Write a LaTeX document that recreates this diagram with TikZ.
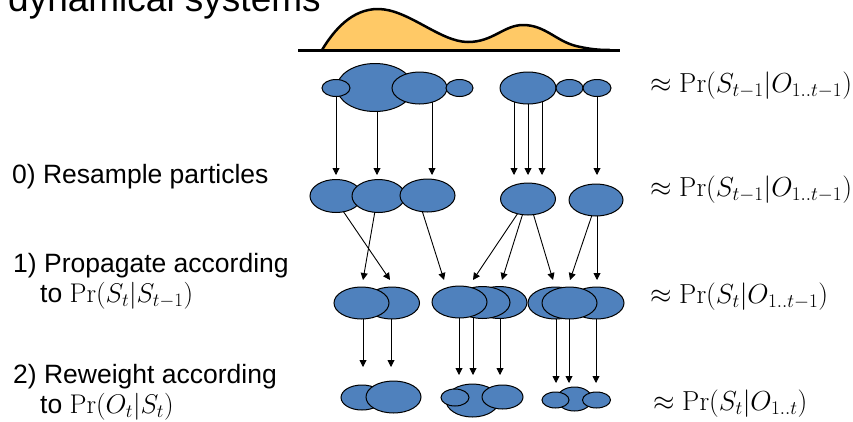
\RequirePackage{fix-cm}
\documentclass[tikz,border=0pt]{standalone}
\usepackage[no-math]{fontspec}
\newfontfamily\arial{Liberation Sans}
\usetikzlibrary{shapes.geometric,arrows.meta}
\definecolor{particleblue}{RGB}{79,129,189}
\definecolor{density}{RGB}{255,201,102}
\pgfdeclarelayer{back}
\pgfdeclarelayer{links}
\pgfsetlayers{back,links,main}

\tikzset{
  particle/.style={ellipse, draw=black, fill=particleblue, line width=1pt, inner sep=0pt},
  flow/.style={-{Triangle[length=7pt,width=7pt]}, line width=0.9pt, draw=black},
  steptext/.style={anchor=base west, inner sep=0pt, font=\arial\fontsize{26.5}{30}\selectfont},
  mathlabel/.style={anchor=base west, inner sep=0pt, font=\fontsize{27.5}{31}\selectfont},
}
% particle: name, centre x, centre y, full width, full height
\newcommand\particleat[5]{\node[particle, minimum width=#4pt, minimum height=#5pt] (#1) at (#2,#3) {};}
% maths inside the step descriptions
\newcommand\stepmath[1]{{\fontsize{27}{30}\selectfont$#1$}}

\begin{document}
\begin{tikzpicture}[x=1pt,y=-1pt]
\useasboundingbox (0,0) rectangle (853,421);
\begin{pgfonlayer}{back}
  \fill[white] (0,0) rectangle (853,421);
\end{pgfonlayer}

% title, cut by the top edge
\node[anchor=base west, inner sep=0pt, font=\arial\fontsize{37}{44}\selectfont] (title) at (8,11) {dynamical systems};

% density curve over its axis
\fill[density] (322,50) .. controls (334,30) and (352,9) .. (378,9)
  .. controls (408,9) and (440,42) .. (468,42)
  .. controls (493,42) and (504,25) .. (523,25)
  .. controls (545,25) and (556,41) .. (576,46)
  .. controls (591,49.5) and (600,50) .. (610,50) -- cycle;
\draw[line width=2.5pt, line join=round] (322,50) .. controls (334,30) and (352,9) .. (378,9)
  .. controls (408,9) and (440,42) .. (468,42)
  .. controls (493,42) and (504,25) .. (523,25)
  .. controls (545,25) and (556,41) .. (576,46)
  .. controls (591,49.5) and (600,50) .. (610,50);
\draw[line width=3pt] (298,50) -- (620,50);

% row 1: weighted particles at t-1
\particleat{a2}{375}{87.5}{76}{48}
\particleat{a1}{336}{88}{28}{17}
\particleat{a3}{419.5}{88}{55}{32}
\particleat{a4}{459.5}{88}{27}{17}
\particleat{a5}{528}{88}{56}{32}
\particleat{a6}{569.5}{88}{27}{17}
\particleat{a7}{597}{88}{28}{17}

% row 2: resampled particles
\particleat{b1}{336}{196}{52}{33}
\particleat{b2}{378.5}{196}{53}{33}
\particleat{b3}{427.5}{195.5}{55}{33}
\particleat{b4}{528}{199}{55}{32}
\particleat{b5}{596}{200}{54}{32}

% row 3: propagated particles
\particleat{c2}{392}{303}{55}{32}
\particleat{c1}{361.5}{303}{55}{32}
\particleat{c5}{499.5}{302.5}{55}{32}
\particleat{c4}{482.5}{302.5}{55}{32}
\particleat{c3}{459.5}{302}{55}{32}
\particleat{c6}{555.5}{303}{55}{32}
\particleat{c8}{596.5}{303}{55}{32}
\particleat{c7}{569.5}{303}{55}{32}

% row 4: reweighted particles
\particleat{d1}{362}{397.5}{42}{25}
\particleat{d2}{393.5}{397}{55}{32}
\particleat{e1}{472.5}{400.5}{53}{33}
\particleat{e2}{455}{397.5}{28}{17}
\particleat{e3}{502.5}{397}{41}{24}
\particleat{f1}{574.5}{399}{35}{24}
\particleat{f2}{555.5}{400}{27}{16}
\particleat{f3}{596.5}{400}{28}{16}

\begin{pgfonlayer}{links}
  % resampling
  \draw[flow] (a1.center) -- ([shift={(0,-21)}]b1.center);
  \draw[flow] ([shift={(2,0)}]a2.center) -- ([shift={(-1.5,-21)}]b2.center);
  \draw[flow] ([shift={(12.5,0)}]a3.center) -- ([shift={(4.5,-20.5)}]b3.center);
  \draw[flow] ([shift={(-14,0)}]a5.center) -- ([shift={(-14,-24)}]b4.center);
  \draw[flow] (a5.center) -- ([shift={(0,-24)}]b4.center);
  \draw[flow] ([shift={(14,0)}]a5.center) -- ([shift={(14,-24)}]b4.center);
  \draw[flow] (a7.center) -- ([shift={(1,-25)}]b5.center);
  % propagation
  \draw[flow] ([shift={(7,15)}]b1.center) -- ([shift={(-2,-23)}]c2.center);
  \draw[flow] ([shift={(-3.5,15)}]b2.center) -- ([shift={(1.5,-23)}]c1.center);
  \draw[flow] ([shift={(-5.5,15)}]b3.center) -- ([shift={(-15.5,-22)}]c3.center);
  \draw[flow] ([shift={(-10,14)}]b4.center) -- ([shift={(-9.5,-22.5)}]c4.center);
  \draw[flow] ([shift={(-5,14)}]b4.center) -- ([shift={(2.5,-22.5)}]c5.center);
  \draw[flow] ([shift={(5,14)}]b4.center) -- ([shift={(-2.5,-23)}]c6.center);
  \draw[flow] ([shift={(-4,15)}]b5.center) -- ([shift={(0.5,-23)}]c7.center);
  \draw[flow] ([shift={(1,0)}]b5.center) -- ([shift={(0.5,-23)}]c8.center);
  % reweighting
  \draw[flow] ([shift={(1.5,0)}]c1.center) -- ([shift={(1,-30.5)}]d1.center);
  \draw[flow] ([shift={(-1,0)}]c2.center) -- ([shift={(-2.5,-30)}]d2.center);
  \draw[flow] ([shift={(-0.5,0)}]c3.center) -- ([shift={(4,-22.5)}]e2.center);
  \draw[flow] ([shift={(-9.5,0)}]c4.center) -- ([shift={(0.5,-25.5)}]e1.center);
  \draw[flow] ([shift={(0.5,0)}]c5.center) -- ([shift={(-2.5,-22)}]e3.center);
  \draw[flow] ([shift={(0.5,0)}]c6.center) -- ([shift={(0.5,-17)}]f2.center);
  \draw[flow] ([shift={(-0.5,0)}]c7.center) -- ([shift={(-5.5,-16)}]f1.center);
  \draw[flow] ([shift={(-0.5,0)}]c8.center) -- ([shift={(-0.5,-17)}]f3.center);
\end{pgfonlayer}

% step descriptions
\node[steptext] (s0) at (12,183) {0) Resample particles};
\node[steptext] (s1) at (13,272) {1) Propagate according};
\node[steptext] (s1b) at (40,302) {to \stepmath{\Pr(S_t|S_{t-1})}};
\node[steptext] (s2) at (13,383) {2) Reweight according};
\node[steptext] (s2b) at (40,413) {to \stepmath{\Pr(O_t|S_t)}};

% what each row approximates
\node[mathlabel] (m1) at (650,92) {$\approx \Pr(S_{t-1}|O_{1..t-1})$};
\node[mathlabel] (m2) at (650,196) {$\approx \Pr(S_{t-1}|O_{1..t-1})$};
\node[mathlabel] (m3) at (650,303) {$\approx \Pr(S_t|O_{1..t-1})$};
\node[mathlabel] (m4) at (653,410) {$\approx \Pr(S_t|O_{1..t})$};
\end{tikzpicture}
\end{document}
